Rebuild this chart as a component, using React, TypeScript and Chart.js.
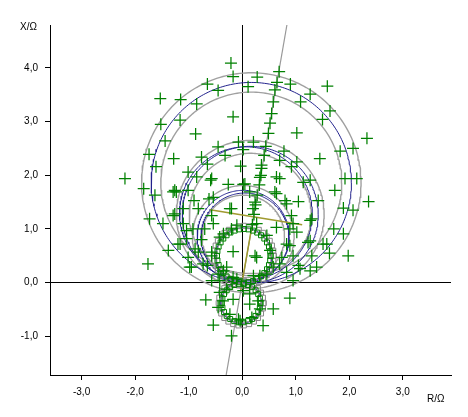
import React, { useEffect, useRef } from 'react';
import { Chart, registerables } from 'chart.js';

Chart.register(...registerables);

// axis ranges and ticks (R in ohm, X in ohm)
const rRange = [-3.59, 3.9];
const xRange = [-1.72, 4.8];
const rTicks = [-3, -2, -1, 0, 1, 2, 3];
const xTicks = [-1, 0, 1, 2, 3, 4];

// nominal characteristic circles: [centerR, centerX, radius]
const nominalCircles = [
  [0.17, 1.86, 1.87],
  [0.15, 1.27, 1.27],
  [0.07, 1.29, 1.24],
  [0.02, 0.86, 0.86],
  [0.05, 0.85, 0.82],
  [0.03, 0.5, 0.52],
  [-0.02, -0.38, 0.38],
];
// tolerance band circles: [centerR, centerX, radius]
const bandCircles = [
  [0.17, 1.86, 2.05],
  [0.17, 1.86, 1.69],
  [0.15, 1.27, 1.38],
  [0.15, 1.27, 1.14],
  [0.02, 0.86, 0.95],
  [0.02, 0.86, 0.77],
];
// small zones drawn with square markers: [centerR, centerX, radius, points]
const greenSquareRings = [
  [0.03, 0.5, 0.5, 36],
  [-0.02, -0.38, 0.36, 26],
];
const graySquareRings = [
  [0.03, 0.5, 0.56, 36],
  [-0.02, -0.38, 0.42, 26],
];

// impedance line through the origin
const lineR = [-0.3, 0.835];
const lineX = [-1.72, 4.8];
// olive segments
const oliveA = [[-0.6, 1.36], [1.12, 1.08]];
const oliveB = [[0.19, 1.1], [-0.03, -0.15]];

// test points along the line
const linePlusR = [0.69, 0.65, 0.61, 0.58, 0.55, 0.52, 0.49, 0.44, 0.41, 0.36, 0.35, 0.32, 0.28, 0.25, 0.22, 0.19];
const linePlusX = [3.93, 3.73, 3.59, 3.37, 3.15, 2.97, 2.78, 2.54, 2.37, 2.19, 2.0, 1.82, 1.63, 1.45, 1.27, 1.08];

// test points (R, X)
const upperPlus = [
  [-0.21, 4.09], [-0.17, 3.84], [-0.65, 3.7], [-0.45, 3.58], [-1.53, 3.43], [-1.15, 3.41], [-0.85, 3.33],
  [-0.17, 3.09], [-1.52, 2.95], [-1.16, 3.03], [-0.87, 2.77], [-1.44, 2.64], [-1.74, 2.39], [-1.28, 2.31],
  [-1.61, 2.16], [-0.76, 2.34], [-0.65, 2.21], [-0.45, 2.53], [-0.32, 2.37], [-0.07, 2.62], [-0.03, 2.17],
  [0.28, 3.83], [0.11, 3.65], [0.9, 3.7], [1.59, 3.66], [1.27, 3.51], [1.09, 3.37], [1.64, 3.2], [1.5, 3.04],
  [1.02, 2.79], [2.33, 2.69], [0.21, 2.62], [1.83, 2.45], [2.07, 2.5], [0.02, 2.48], [0.78, 2.45], [1.45, 2.31],
  [1.02, 2.25], [0.7, 2.28], [0.92, 2.16],
];
const middlePlus = [
  [-2.19, 1.94], [-1.84, 1.75], [-1.63, 1.63], [-1.73, 1.19], [-1.76, 0.35], [-1.01, 2.06], [-1.26, 1.72],
  [-0.57, 1.94], [-0.26, 1.83], [0.02, 1.83], [0.14, 1.69], [0.33, 1.96], [0.64, 1.97], [1.14, 1.87],
  [1.27, 1.91], [0.61, 1.69], [1.73, 1.72], [-0.85, 1.97], [-0.59, 1.91], [-1.29, 1.69], [-1.01, 1.72],
  [-0.9, 1.53], [-0.62, 1.56], [-1.1, 1.38], [-1.48, 1.1], [-1.29, 1.25], [-1.1, 1.1], [-0.92, 1.0],
  [-0.76, 0.8], [-0.54, 1.1], [-0.2, 1.38], [-1.04, 0.82], [-1.38, 0.6], [-1.2, 0.72], [-0.82, 0.57],
  [-1.01, 0.47], [-0.98, 0.29], [-0.65, 0.32], [-0.57, 0.57], [-0.42, 0.85], [-0.17, 0.58], [-0.45, 0.16],
  [-0.29, 0.29], [-0.57, 0.04], [-0.1, 0.07], [-0.42, 0.04], [-0.2, 1.0],
  [0.05, 1.84], [0.36, 2.13], [0.7, 1.94], [1.92, 1.94], [2.14, 1.94], [2.36, 1.51], [1.89, 1.39],
  [2.07, 1.35], [1.71, 1.0], [1.89, 0.91], [1.63, 0.55], [1.98, 0.5], [0.8, 1.53], [1.05, 1.51], [1.42, 1.53],
  [1.3, 1.19], [0.24, 1.5], [0.92, 1.25], [0.64, 1.03], [0.89, 1.0], [1.02, 0.94], [1.23, 0.75], [1.51, 0.72],
  [0.89, 0.69], [0.74, 0.47], [0.95, 0.5], [1.3, 0.5], [1.05, 0.32], [1.27, 0.22], [0.83, 0.19], [0.24, 0.5],
  [0.46, 0.88], [0.2, 1.38], [0.33, 0.13], [0.58, 0.29], [0.95, 0.04],
  [-1.23, 1.69], [-0.54, 1.59], [-0.82, 1.38], [-0.23, 1.38], [-0.57, 1.25], [0.64, 1.66], [0.83, 1.47],
  [1.27, 1.16], [0.95, 1.1], [0.27, 1.1], [-0.1, 1.07], [-0.35, 0.91], [-0.7, 1.0], [-1.04, 0.97],
  [-1.26, 1.28], [-1.16, 0.72], [-0.88, 0.63], [-0.57, 0.5], [0.27, 0.47], [0.52, 0.6], [0.83, 0.72],
  [1.27, 0.78], [1.58, 0.72], [1.39, 0.29], [1.08, 0.26], [0.7, 0.35], [-0.73, 0.35], [-0.95, 0.29],
  [-0.35, 0.22], [-0.17, 0.1], [0.21, 0.13], [0.46, 0.16],
];
const lowerPlus = [
  [-0.68, -0.32], [0.89, -0.29], [0.58, -0.49], [-0.54, -0.79], [0.39, -0.8], [-0.29, -0.12], [-0.17, -0.31],
  [0.14, -0.4], [0.33, -0.49], [-0.45, -0.46], [-0.23, -0.59], [-0.07, -0.68], [0.18, -0.65], [-0.36, -0.34],
  [0.02, -0.15], [-0.42, -0.18], [0.14, -0.21], [0.3, -0.34], [-0.2, -0.99], [-0.04, -0.71],
];

const FONT = '"Liberation Sans", Arial, sans-serif';
const GREEN = '#008000';
const GRAY = '#a0a0a0';
const BLUE = '#22228c';

function ring(cx: number, cy: number, r: number, n: number) {
  const pts: { x: number; y: number }[] = [];
  for (let i = 0; i <= n; i++) {
    const a = (i / n) * Math.PI * 2;
    pts.push({ x: cx + r * Math.cos(a), y: cy + r * Math.sin(a) });
  }
  return pts;
}

const fmt = (v: number) => v.toFixed(1).replace('.', ',');

const titlePlugin = {
  id: 'axisTitles',
  afterDraw(chart: any) {
    const ctx = chart.ctx;
    ctx.save();
    ctx.font = '10px ' + FONT;
    ctx.fillStyle = '#000';
    ctx.textAlign = 'left';
    ctx.textBaseline = 'alphabetic';
    ctx.fillText('X/Ω', 20, 30);
    ctx.fillText('R/Ω', 427, 402);
    ctx.restore();
  },
};

export default function App() {
  const ref = useRef<HTMLCanvasElement | null>(null);
  useEffect(() => {
    document.body.style.margin = '0';
    const canvas = ref.current!;
    const toPts = (arr: number[][]) => arr.map(([x, y]) => ({ x, y }));
    const datasets: any[] = [];
    datasets.push({
      data: [...toPts(upperPlus), ...toPts(middlePlus), ...toPts(lowerPlus), ...linePlusR.map((r, i) => ({ x: r, y: linePlusX[i] }))],
      pointStyle: 'cross', pointRadius: 6, borderColor: GREEN, borderWidth: 1.25, showLine: false,
    });
    greenSquareRings.forEach(([cx, cy, r, n]) => datasets.push({
      data: ring(cx, cy, r, n), pointStyle: 'rect', pointRadius: 3.5, borderColor: GREEN, borderWidth: 1,
      backgroundColor: 'rgba(0,0,0,0)', showLine: false,
    }));
    graySquareRings.forEach(([cx, cy, r, n]) => datasets.push({
      data: ring(cx, cy, r, n), pointStyle: 'rect', pointRadius: 3.5, borderColor: '#888', borderWidth: 1,
      backgroundColor: 'rgba(0,0,0,0)', showLine: false,
    }));
    [oliveA, oliveB].forEach((seg) => datasets.push({
      data: toPts(seg), showLine: true, pointRadius: 0, borderColor: '#a09a30', borderWidth: 1.5,
    }));
    datasets.push({
      data: lineR.map((r, i) => ({ x: r, y: lineX[i] })), showLine: true, pointRadius: 0, borderColor: '#999', borderWidth: 1.2,
    });
    nominalCircles.forEach(([cx, cy, r]) => datasets.push({
      data: ring(cx, cy, r, 240), showLine: true, pointRadius: 0, borderColor: BLUE, borderWidth: 1,
    }));
    bandCircles.forEach(([cx, cy, r]) => datasets.push({
      data: ring(cx, cy, r, 240), showLine: true, pointRadius: 0, borderColor: GRAY, borderWidth: 1.4,
    }));

    const chart = new Chart(canvas, {
      type: 'scatter',
      data: { datasets },
      options: {
        animation: false,
        responsive: false,
        events: [],
        layout: { padding: { top: 25, right: 17, left: 0, bottom: 0 } },
        plugins: { legend: { display: false }, tooltip: { enabled: false } },
        elements: { line: { tension: 0 } },
        scales: {
          x: {
            type: 'linear', min: rRange[0], max: rRange[1],
            afterBuildTicks: (s: any) => { s.ticks = rTicks.map((v) => ({ value: v })); },
            afterFit: (s: any) => { s.height = 42; },
            ticks: { callback: (v: any) => fmt(Number(v)), font: { family: FONT, size: 10 }, color: '#000', padding: 6, maxRotation: 0, autoSkip: false },
            grid: {
              color: (c: any) => (c.tick && c.tick.value === 0 ? '#000' : 'rgba(0,0,0,0)'),
              tickColor: '#000', tickLength: 5, lineWidth: 1,
            },
            border: { display: true, color: '#000', width: 1 },
          },
          y: {
            type: 'linear', min: xRange[0], max: xRange[1],
            afterBuildTicks: (s: any) => { s.ticks = xTicks.map((v) => ({ value: v })); },
            afterFit: (s: any) => { s.width = 50; },
            ticks: { callback: (v: any) => fmt(Number(v)), font: { family: FONT, size: 10 }, color: '#000', padding: 7, autoSkip: false },
            grid: {
              color: (c: any) => (c.tick && c.tick.value === 0 ? '#000' : 'rgba(0,0,0,0)'),
              tickColor: '#000', tickLength: 5, lineWidth: 1,
            },
            border: { display: true, color: '#000', width: 1 },
          },
        },
      },
      plugins: [titlePlugin],
    });
    return () => chart.destroy();
  }, []);
  return <canvas ref={ref} width={468} height={417} style={{ display: 'block' }} />;
}
